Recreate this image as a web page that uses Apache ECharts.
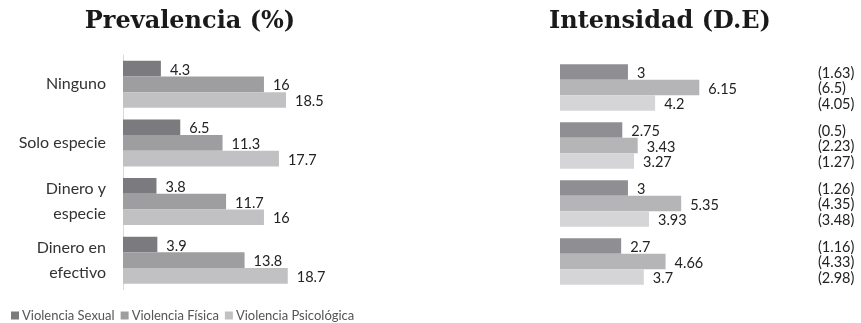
<!DOCTYPE html>
<html>
<head>
<meta charset="utf-8">
<script src="https://cdn.jsdelivr.net/npm/echarts@6/dist/echarts.min.js"></script>
<style>
  html, body { margin: 0; padding: 0; background: #fff; }
  #chart { width: 861px; height: 323px; }
</style>
</head>
<body>
<div id="chart"></div>
<script>
// Categories of payment type
const categories = ['Ninguno', 'Solo especie', 'Dinero y\nespecie', 'Dinero en\nefectivo'];
const seriesNames = ['Violencia Sexual', 'Violencia Física', 'Violencia Psicológica'];

// Prevalence (%)
const prevSexual = [4.3, 6.5, 3.8, 3.9];
const prevFisica = [16, 11.3, 11.7, 13.8];
const prevPsico = [18.5, 17.7, 16, 18.7];

// Intensity (mean)
const intSexual = [3, 2.75, 3, 2.7];
const intFisica = [6.15, 3.43, 5.35, 4.66];
const intPsico = [4.2, 3.27, 3.93, 3.7];

// Intensity standard deviations
const sdSexual = ['(1.63)', '(0.5)', '(1.26)', '(1.16)'];
const sdFisica = ['(6.5)', '(2.23)', '(4.35)', '(4.33)'];
const sdPsico = ['(4.05)', '(1.27)', '(3.48)', '(2.98)'];

const leftColors = ['#7b7b7f', '#9e9ea1', '#c1c1c4'];
const rightColors = ['#8f8f93', '#b5b5b8', '#d5d5d7'];
const FONT = 'Lato, "Open Sans", sans-serif';

// x position (in intensity units) where the D.E column starts
const sdAnchor = 11.39;

const chart = echarts.init(document.getElementById('chart'), null, { renderer: 'canvas' });

const valueLabel = {
  show: true,
  position: 'right',
  distance: 9,
  offset: [0, 1.5],
  fontFamily: FONT,
  fontSize: 14.5,
  color: '#222'
};

function barSeries(name, data, color, axisIdx) {
  return {
    name: name,
    type: 'bar',
    xAxisIndex: axisIdx,
    yAxisIndex: axisIdx,
    data: data,
    barGap: '0%',
    barCategoryGap: '20%',
    itemStyle: { color: color },
    label: valueLabel,
    emphasis: { disabled: true },
    animation: false
  };
}

function sdSeries(labels) {
  return {
    type: 'bar',
    xAxisIndex: 2,
    yAxisIndex: 2,
    data: labels.map(() => sdAnchor),
    barGap: '0%',
    barCategoryGap: '20%',
    itemStyle: { color: 'transparent' },
    silent: true,
    label: {
      show: true,
      position: 'right',
      distance: 0,
      offset: [0, 1],
      fontFamily: FONT,
      fontSize: 14.5,
      color: '#222',
      formatter: p => labels[p.dataIndex]
    },
    animation: false
  };
}

const hiddenCat = {
  type: 'category',
  data: categories,
  inverse: true,
  axisLine: { show: false },
  axisTick: { show: false },
  axisLabel: { show: false },
  splitLine: { show: false }
};

const titleStyle = {
  fontFamily: '"DejaVu Serif", serif',
  fontWeight: 'bold',
  fontSize: 24,
  color: '#1a1a1a'
};

chart.setOption({
  animation: false,
  title: [
    { text: 'Prevalencia (%)', left: 185, top: 5, textAlign: 'center', textStyle: titleStyle },
    { text: 'Intensidad (D.E)', left: 655, top: 5, textAlign: 'center', textStyle: titleStyle }
  ],
  legend: {
    data: seriesNames,
    left: 6,
    top: 304,
    itemWidth: 8,
    itemHeight: 8,
    itemGap: 6,
    icon: 'rect',
    textStyle: { fontFamily: FONT, fontSize: 13, color: '#555', padding: [0, 0, 0, -2] }
  },
  grid: [
    { left: 123, top: 55, width: 264.3, height: 234.5 },
    { left: 560, top: 58.5, width: 271.8, height: 232 },
    { left: 560, top: 58.5, width: 271.8, height: 232 }
  ],
  xAxis: [
    { type: 'value', gridIndex: 0, min: 0, max: 30, show: false },
    { type: 'value', gridIndex: 1, min: 0, max: 12, show: false },
    { type: 'value', gridIndex: 2, min: 0, max: 12, show: false }
  ],
  yAxis: [
    {
      type: 'category',
      gridIndex: 0,
      data: categories,
      inverse: true,
      axisLine: { show: true, lineStyle: { color: '#d9d9d9', width: 1 } },
      axisTick: { show: false },
      axisLabel: {
        margin: 17,
        fontFamily: FONT,
        fontSize: 16,
        lineHeight: 25,
        color: '#333',
        align: 'right'
      }
    },
    Object.assign({ gridIndex: 1 }, hiddenCat),
    Object.assign({ gridIndex: 2 }, hiddenCat)
  ],
  series: [
    barSeries(seriesNames[0], prevSexual, leftColors[0], 0),
    barSeries(seriesNames[1], prevFisica, leftColors[1], 0),
    barSeries(seriesNames[2], prevPsico, leftColors[2], 0),
    barSeries('int-s', intSexual, rightColors[0], 1),
    barSeries('int-f', intFisica, rightColors[1], 1),
    barSeries('int-p', intPsico, rightColors[2], 1),
    sdSeries(sdSexual),
    sdSeries(sdFisica),
    sdSeries(sdPsico)
  ]
});
</script>
</body>
</html>
